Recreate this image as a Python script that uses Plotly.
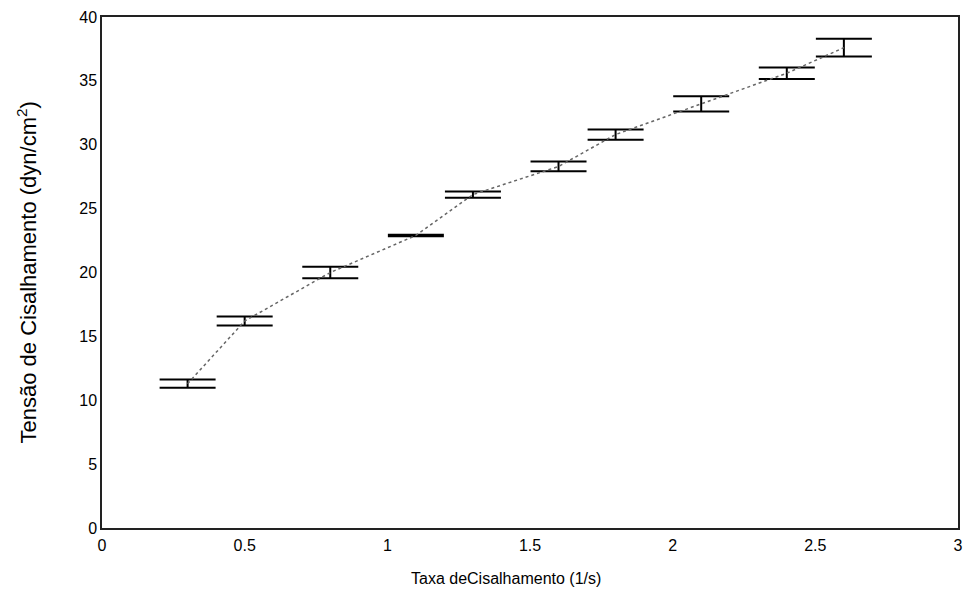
import plotly.graph_objects as go

taxa = [0.30, 0.50, 0.80, 1.10, 1.30, 1.60, 1.80, 2.10, 2.40, 2.60]
tensao = [11.3, 16.2, 20.0, 22.9, 26.1, 28.3, 30.8, 33.2, 35.6, 37.6]
erro = [0.33, 0.35, 0.45, 0.06, 0.25, 0.38, 0.40, 0.60, 0.45, 0.70]

x_ticks = [0, 0.5, 1, 1.5, 2, 2.5, 3]
x_ticklabels = ["0", "0.5", "1", "1.5", "2", "2.5", "3"]
y_ticks = [0, 5, 10, 15, 20, 25, 30, 35, 40]

x_title = "Taxa deCisalhamento (1/s)"
y_title = "Tensão de Cisalhamento (dyn/cm<sup>2</sup>)"

fig = go.Figure()
fig.add_trace(go.Scatter(
    x=taxa, y=tensao, mode="lines",
    line=dict(color="#666666", width=1.5, dash="dot"),
    error_y=dict(type="data", array=erro, visible=True,
                 color="black", thickness=2, width=28),
    showlegend=False,
))

font = "Liberation Sans, Arial, sans-serif"
fig.update_layout(
    width=969, height=589,
    margin=dict(l=102, r=6, t=17, b=61),
    paper_bgcolor="white", plot_bgcolor="white",
    font=dict(family=font, size=16, color="black"),
    xaxis=dict(range=[0, 3], tickvals=x_ticks, ticktext=x_ticklabels,
               showgrid=False, zeroline=False, showline=True, mirror=True,
               linecolor="#222222", linewidth=1.5, ticks="",
               ticklabelstandoff=2),
    yaxis=dict(range=[0, 40], tickvals=y_ticks,
               showgrid=False, zeroline=False, showline=True, mirror=True,
               linecolor="#222222", linewidth=1.5, ticks=""),
    annotations=[
        dict(text=x_title, xref="paper", yref="paper", x=0.472, y=0,
             xanchor="center", yanchor="middle", yshift=-50,
             showarrow=False, font=dict(size=16)),
        dict(text=y_title, xref="paper", yref="paper", x=0, y=0.5,
             xanchor="center", yanchor="middle", xshift=-76,
             textangle=-90, showarrow=False, font=dict(size=22)),
    ],
)

fig.write_html("out.html", config={"displayModeBar": False},
               post_script="document.body.style.margin='0';document.body.style.overflow='hidden';")
